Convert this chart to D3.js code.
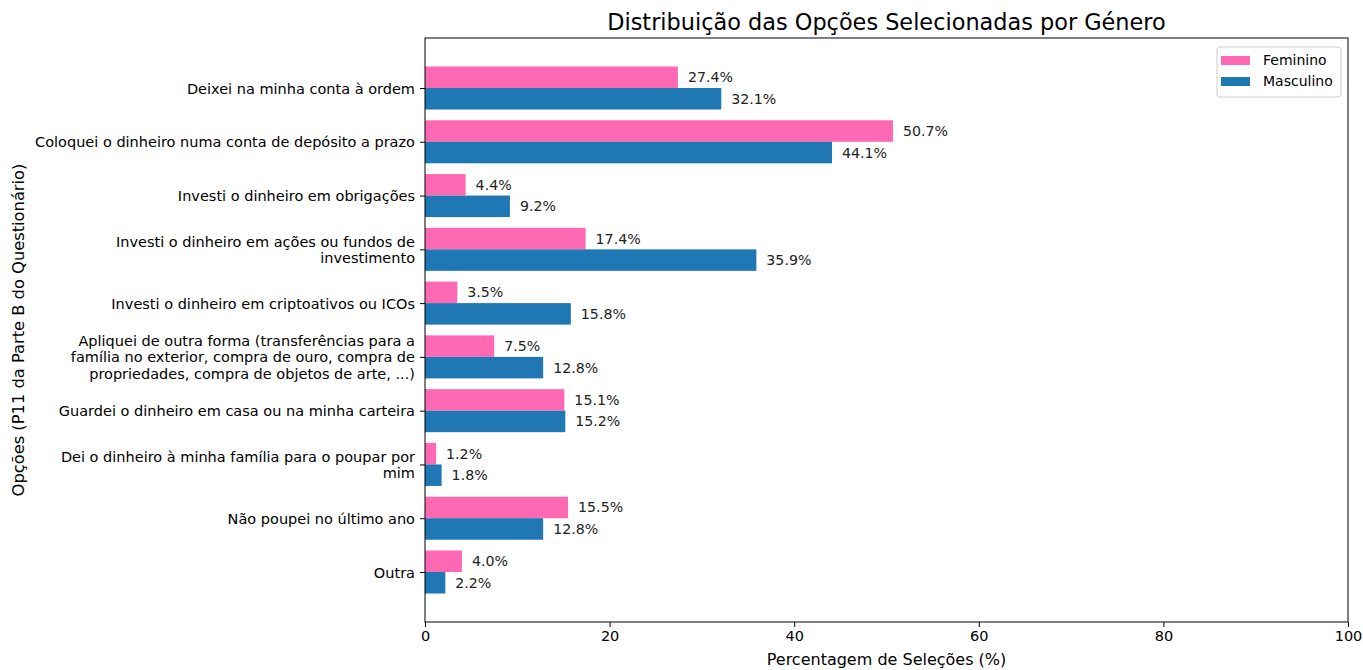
<!DOCTYPE html>
<html>
<head>
<meta charset="utf-8">
<script src="https://cdn.jsdelivr.net/npm/d3@7"></script>
<style>
  body { margin: 0; background: #fff; }
  svg { font-family: "DejaVu Sans", sans-serif; }
</style>
</head>
<body>
<div id="chart"></div>
<script>
const categories = [
  "Deixei na minha conta à ordem",
  "Coloquei o dinheiro numa conta de depósito a prazo",
  "Investi o dinheiro em obrigações",
  "Investi o dinheiro em ações ou fundos de\ninvestimento",
  "Investi o dinheiro em criptoativos ou ICOs",
  "Apliquei de outra forma (transferências para a\nfamília no exterior, compra de ouro, compra de\npropriedades, compra de objetos de arte, ...)",
  "Guardei o dinheiro em casa ou na minha carteira",
  "Dei o dinheiro à minha família para o poupar por\nmim",
  "Não poupei no último ano",
  "Outra"
];
const feminino  = [27.4, 50.7, 4.4, 17.4, 3.5, 7.5, 15.1, 1.2, 15.5, 4.0];
const masculino = [32.1, 44.1, 9.2, 35.9, 15.8, 12.8, 15.2, 1.8, 12.8, 2.2];
const xTicks = [0, 20, 40, 60, 80, 100];

const width = 1363, height = 670;
const margin = { top: 38, right: 15, bottom: 48, left: 425 };
const innerWidth  = width  - margin.left - margin.right;
const innerHeight = height - margin.top  - margin.bottom;

const svg = d3.select("#chart").append("svg")
  .attr("width", width)
  .attr("height", height);

const g = svg.append("g")
  .attr("transform", `translate(${margin.left},${margin.top})`);

const x = d3.scaleLinear().domain([0, 100]).range([0, innerWidth]);
const y = d3.scaleLinear().domain([-0.93, categories.length - 1 + 0.93]).range([0, innerHeight]);
const barH = y(0.4) - y(0);

const series = [
  { name: "Feminino",  values: feminino,  color: "#ff69b4", off: -0.2 },
  { name: "Masculino", values: masculino, color: "#1f77b4", off:  0.2 }
];

series.forEach(s => {
  g.append("g").selectAll("rect")
    .data(s.values)
    .join("rect")
      .attr("x", x(0))
      .attr("y", (d, i) => y(i + s.off) - barH / 2)
      .attr("width", d => x(d) - x(0))
      .attr("height", barH)
      .attr("fill", s.color);

  g.append("g").selectAll("text")
    .data(s.values)
    .join("text")
      .attr("x", d => x(d) + 10)
      .attr("y", (d, i) => y(i + s.off))
      .attr("dy", "0.35em")
      .attr("font-size", 14.2)
      .attr("fill", "#222")
      .text(d => d.toFixed(1) + "%");
});

// axes
const xAxis = d3.axisBottom(x).tickValues(xTicks).tickSize(5).tickPadding(4);
g.append("g")
  .attr("transform", `translate(0,${innerHeight})`)
  .call(xAxis)
  .call(a => a.select(".domain").remove())
  .call(a => a.selectAll("line").attr("stroke", "#000"))
  .call(a => a.selectAll("text").attr("font-size", 14.5).attr("fill", "#000")
    .attr("font-family", "DejaVu Sans, sans-serif"));

const yAxis = d3.axisLeft(y).tickValues(d3.range(categories.length)).tickSize(5).tickFormat(() => "");
const ya = g.append("g").call(yAxis);
ya.select(".domain").remove();
ya.selectAll("line").attr("stroke", "#000");
ya.selectAll(".tick text").remove();

// multi-line category labels
ya.selectAll(".tick").each(function(d) {
  const lines = categories[d].split("\n");
  const lh = 16.8;
  const t = d3.select(this).append("text")
    .attr("x", -10)
    .attr("text-anchor", "end")
    .attr("fill", "#000")
    .attr("font-size", 14.5)
    .attr("font-family", "DejaVu Sans, sans-serif");
  lines.forEach((ln, k) => {
    t.append("tspan")
      .attr("x", -10)
      .attr("y", (k - (lines.length - 1) / 2) * lh)
      .attr("dy", "0.35em")
      .text(ln);
  });
});

// frame
g.append("rect")
  .attr("width", innerWidth)
  .attr("height", innerHeight)
  .attr("fill", "none")
  .attr("stroke", "#000")
  .attr("stroke-width", 1);

// title and labels
svg.append("text")
  .attr("x", margin.left + innerWidth / 2)
  .attr("y", 30)
  .attr("text-anchor", "middle")
  .attr("font-size", 22.4)
  .text("Distribuição das Opções Selecionadas por Género");

svg.append("text")
  .attr("x", margin.left + innerWidth / 2)
  .attr("y", 665)
  .attr("text-anchor", "middle")
  .attr("font-size", 16)
  .text("Percentagem de Seleções (%)");

svg.append("text")
  .attr("transform", `translate(24,${margin.top + innerHeight / 2}) rotate(-90)`)
  .attr("text-anchor", "middle")
  .attr("font-size", 16.3)
  .text("Opções (P11 da Parte B do Questionário)");

// legend
const lg = svg.append("g").attr("transform", `translate(${margin.left + innerWidth - 131},47)`);
lg.append("rect")
  .attr("width", 124).attr("height", 50).attr("rx", 3)
  .attr("fill", "#fff").attr("stroke", "#ccc");
series.forEach((s, i) => {
  lg.append("rect")
    .attr("x", 4).attr("y", 9 + i * 21)
    .attr("width", 29).attr("height", 9)
    .attr("fill", s.color);
  lg.append("text")
    .attr("x", 46).attr("y", 13.5 + i * 21)
    .attr("dy", "0.35em")
    .attr("font-size", 14)
    .text(s.name);
});
</script>
</body>
</html>
